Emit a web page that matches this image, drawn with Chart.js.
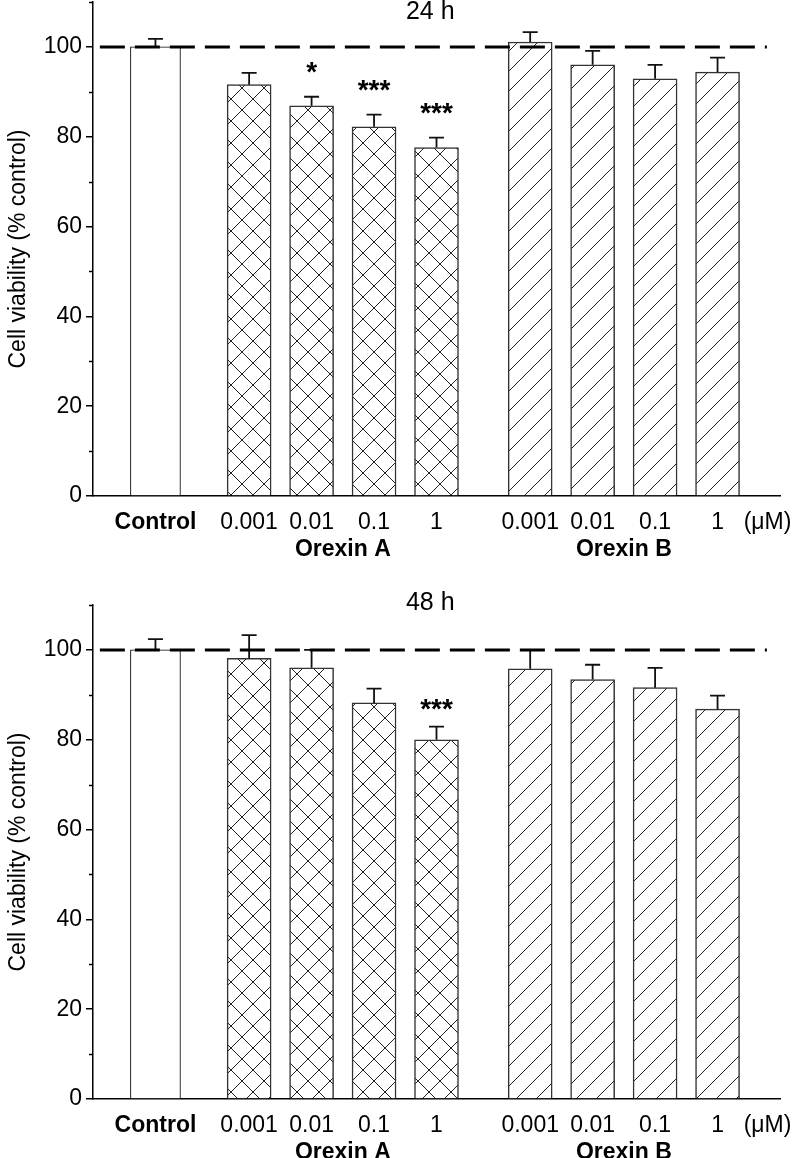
<!DOCTYPE html>
<html>
<head>
<meta charset="utf-8">
<script src="https://cdn.jsdelivr.net/npm/chart.js@4"></script>
<style>
  body { margin: 0; background: #fff; }
  #wrap { position: relative; width: 793px; height: 1158px; }
  canvas { position: absolute; left: 0; }
</style>
</head>
<body>
<div id="wrap">
  <canvas id="chart24" width="793" height="575" style="top:0"></canvas>
  <canvas id="chart48" width="793" height="583" style="top:575px"></canvas>
</div>
<script>
// x positions of the bars and tick labels
const controlPos = [0];
const orexinAPos = [1.5, 2.5, 3.5, 4.5];
const orexinBPos = [6, 7, 8, 9];
const tickPos = [0, 1.5, 2.5, 3.5, 4.5, 6, 7, 8, 9, 9.8];
const tickLabels = ['Control', '0.001', '0.01', '0.1', '1', '0.001', '0.01', '0.1', '1', '(\u03bcM)'];
const groupLabels = ['Orexin A', 'Orexin B'];
const groupPos = [3, 7.5];

// y axis
const yTicks = [0, 20, 40, 60, 80, 100];
const yMinor = [10, 30, 50, 70, 90, 110];
const refLine = 100;
const refX = [-0.89, 9.79];

// 24 h
const control24 = [100];
const controlErr24 = [1.8];
const orexinA24 = [91.6, 86.9, 82.2, 77.6];
const errA24 = [2.6, 2.0, 2.7, 2.2];
const orexinB24 = [101.1, 96.0, 92.9, 94.4];
const errB24 = [2.2, 3.1, 3.1, 3.2];
const starsA24 = ['', '*', '***', '***'];

// 48 h
const control48 = [100];
const controlErr48 = [2.4];
const orexinA48 = [98.1, 96.0, 88.2, 80.0];
const errA48 = [5.2, 4.0, 3.2, 2.9];
const orexinB48 = [95.8, 93.4, 91.6, 86.8];
const errB48 = [4.2, 3.3, 4.4, 3.0];
const starsA48 = ['', '', '', '***'];

const FONT = "'Liberation Sans', Arial, sans-serif";
const FS = 23;

// hatch patterns
function makeCross() {
    const c = document.createElement('canvas');
    c.width = 22; c.height = 22;
    const g = c.getContext('2d');
    g.fillStyle = '#fff';
    g.fillRect(0, 0, 22, 22);
    g.strokeStyle = '#222';
    g.lineWidth = 1;
    g.beginPath();
    g.moveTo(0, 0); g.lineTo(22, 22);
    g.moveTo(22, 0); g.lineTo(0, 22);
    g.stroke();
    return document.createElement('canvas').getContext('2d').createPattern(c, 'repeat');
}
function makeSlash() {
    const c = document.createElement('canvas');
    c.width = 20; c.height = 20;
    const g = c.getContext('2d');
    g.fillStyle = '#fff';
    g.fillRect(0, 0, 20, 20);
    g.strokeStyle = '#222';
    g.lineWidth = 1;
    g.beginPath();
    [-20, 0, 20].forEach(k => {
        g.moveTo(-2, 22 + k); g.lineTo(22, -2 + k);
    });
    g.stroke();
    return document.createElement('canvas').getContext('2d').createPattern(c, 'repeat');
}
const crossPat = makeCross();
const slashPat = makeSlash();

// error bars, stars, minor ticks, titles
const figPlugin = {
    id: 'fig',
    afterDatasetDraw(chart, args, opts) {
        const errs = opts.errs[args.index];
        if (!errs) return;
        const ctx = chart.ctx;
        const y = chart.scales.y;
        const ds = chart.data.datasets[args.index];
        const stars = opts.stars[args.index];
        ctx.save();
        ctx.strokeStyle = '#111';
        ctx.lineWidth = 1.8;
        args.meta.data.forEach((el, i) => {
            const top = y.getPixelForValue(ds.data[i].y + errs[i]);
            ctx.beginPath();
            ctx.moveTo(el.x, el.y);
            ctx.lineTo(el.x, top);
            ctx.moveTo(el.x - 7.5, top);
            ctx.lineTo(el.x + 7.5, top);
            ctx.stroke();
            if (stars && stars[i]) {
                ctx.fillStyle = '#000';
                ctx.font = 'bold 28px ' + FONT;
                ctx.textAlign = 'center';
                ctx.textBaseline = 'alphabetic';
                ctx.fillText(stars[i], el.x, top - opts.starGap);
            }
        });
        ctx.restore();
    },
    afterDraw(chart, args, opts) {
        const ctx = chart.ctx;
        const x = chart.scales.x, y = chart.scales.y;
        const area = chart.chartArea;
        ctx.save();
        ctx.strokeStyle = '#000';
        ctx.lineWidth = 1.5;
        yMinor.forEach(v => {
            const py = Math.round(y.getPixelForValue(v)) + 0.5;
            ctx.beginPath();
            ctx.moveTo(area.left - 4, py);
            ctx.lineTo(area.left, py);
            ctx.stroke();
        });
        ctx.fillStyle = '#000';
        ctx.textAlign = 'center';
        ctx.font = 'bold ' + FS + 'px ' + FONT;
        ctx.textBaseline = 'alphabetic';
        groupLabels.forEach((t, i) => {
            ctx.fillText(t, x.getPixelForValue(groupPos[i]), area.bottom + opts.groupY);
        });
        ctx.font = '25px ' + FONT;
        ctx.textBaseline = 'middle';
        ctx.fillText(opts.title, x.getPixelForValue(4.4), area.top + opts.titleY);
        ctx.restore();
    }
};

function makeChart(id, control, controlErr, valsA, errsA, valsB, errsB, stars, title, titleY, starGap, padTop, xHeight) {
    const toPts = (pos, vals) => pos.map((p, i) => ({ x: p, y: vals[i] }));
    return new Chart(document.getElementById(id), {
        type: 'bar',
        data: {
            datasets: [
                {
                    type: 'line',
                    data: refX.map(v => ({ x: v, y: refLine })),
                    borderColor: '#000',
                    borderWidth: 3,
                    borderDash: [25, 10],
                    pointRadius: 0,
                    fill: false,
                    order: 0
                },
                {
                    data: toPts(controlPos, control),
                    backgroundColor: '#fff',
                    borderColor: '#000',
                    borderWidth: 1,
                    barThickness: 50,
                    grouped: false,
                    order: 1
                },
                {
                    data: toPts(orexinAPos, valsA),
                    backgroundColor: crossPat,
                    borderColor: '#333',
                    borderWidth: 1.5,
                    barThickness: 44,
                    grouped: false,
                    order: 1
                },
                {
                    data: toPts(orexinBPos, valsB),
                    backgroundColor: slashPat,
                    borderColor: '#333',
                    borderWidth: 1.5,
                    barThickness: 44,
                    grouped: false,
                    order: 1
                }
            ]
        },
        options: {
            responsive: false,
            animation: false,
            events: [],
            layout: { padding: { top: padTop, right: 13, bottom: 0, left: 0 } },
            plugins: {
                legend: { display: false },
                tooltip: { enabled: false },
                fig: {
                    errs: { 1: controlErr, 2: errsA, 3: errsB },
                    stars: { 2: stars },
                    starGap: starGap,
                    title: title,
                    titleY: titleY,
                    groupY: 60
                }
            },
            scales: {
                x: {
                    type: 'linear',
                    min: -1,
                    max: 10,
                    offset: false,
                    grid: { display: false },
                    border: { display: true, color: '#000', width: 1.5 },
                    afterBuildTicks: s => { s.ticks = tickPos.map(v => ({ value: v })); },
                    afterFit: s => { s.height = xHeight; s.paddingLeft = 0; s.paddingRight = 0; },
                    ticks: {
                        autoSkip: false,
                        maxRotation: 0,
                        padding: 5,
                        color: '#000',
                        font: c => ({ family: FONT, size: FS, weight: c.index === 0 ? 'bold' : 'normal' }),
                        callback: (v, i) => tickLabels[i]
                    }
                },
                y: {
                    min: 0,
                    max: 110,
                    grid: {
                        display: true,
                        drawOnChartArea: false,
                        drawTicks: true,
                        tickLength: 7,
                        color: '#000',
                        lineWidth: 1.5
                    },
                    border: { display: true, color: '#000', width: 1.5 },
                    afterBuildTicks: s => { s.ticks = yTicks.map(v => ({ value: v })); },
                    afterFit: s => { s.width = 93; s.paddingTop = 0; s.paddingBottom = 0; },
                    ticks: {
                        padding: 4,
                        color: '#000',
                        font: { family: FONT, size: FS }
                    },
                    title: {
                        display: true,
                        text: 'Cell viability (% control)',
                        color: '#000',
                        font: { family: FONT, size: FS },
                        padding: { top: 5, bottom: 0 }
                    }
                }
            }
        },
        plugins: [figPlugin]
    });
}

makeChart('chart24', control24, controlErr24, orexinA24, errA24, orexinB24, errB24, starsA24, '24 h', 10, 16, 2, 79);
makeChart('chart48', control48, controlErr48, orexinA48, errA48, orexinB48, errB48, starsA48, '48 h', -2, 9, 30, 59);
</script>
</body>
</html>
